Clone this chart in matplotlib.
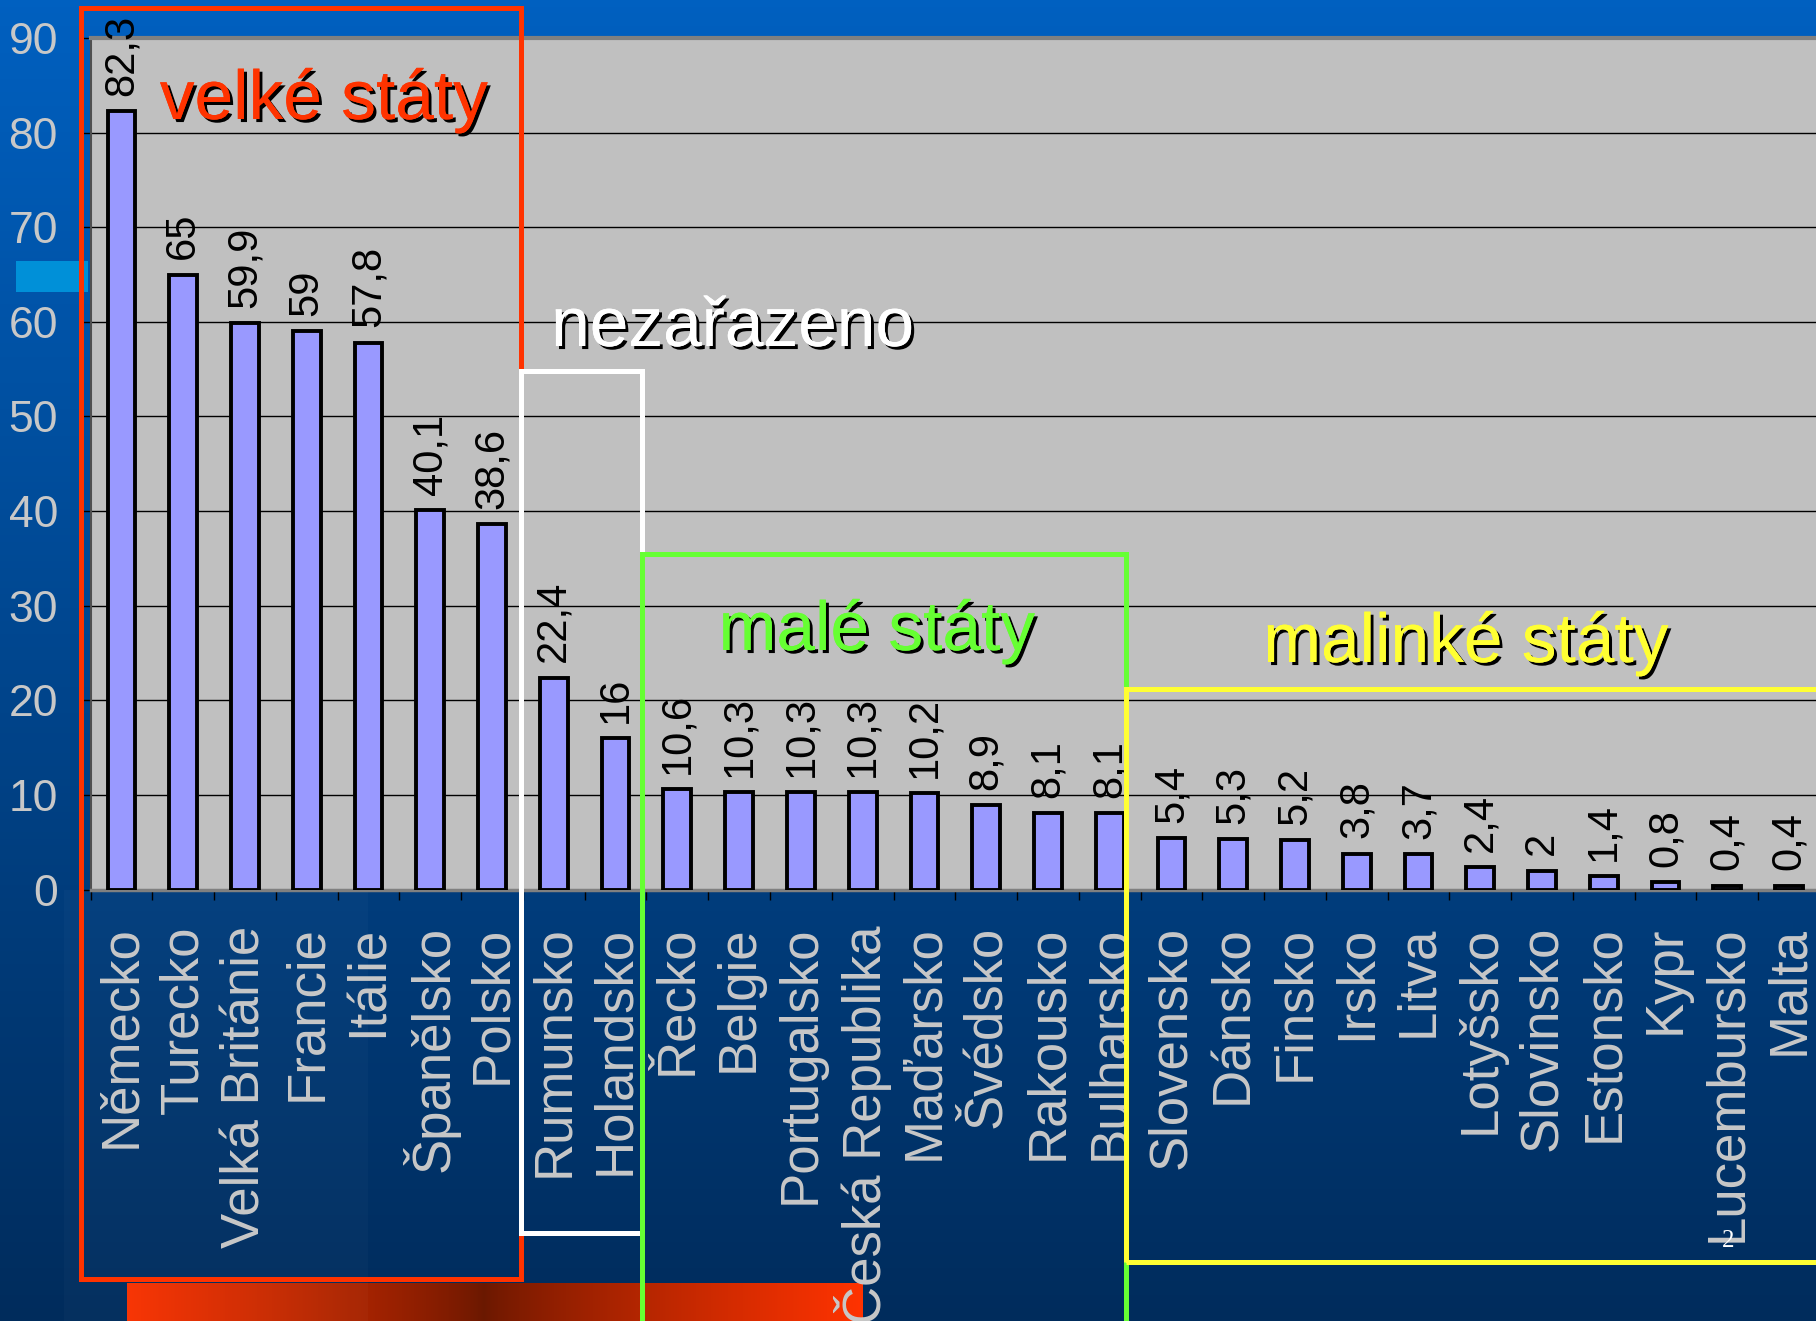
import numpy as np
import matplotlib.pyplot as plt
import matplotlib.patheffects as pe
from matplotlib.patches import Rectangle

# population in millions
countries = ["Německo", "Turecko", "Velká Británie", "Francie", "Itálie",
             "Španělsko", "Polsko", "Rumunsko", "Holandsko", "Řecko",
             "Belgie", "Portugalsko", "Česká Republika", "Maďarsko", "Švédsko",
             "Rakousko", "Bulharsko", "Slovensko", "Dánsko", "Finsko",
             "Irsko", "Litva", "Lotyšsko", "Slovinsko", "Estonsko",
             "Kypr", "Lucembursko", "Malta"]
values = [82.3, 65, 59.9, 59, 57.8, 40.1, 38.6, 22.4, 16, 10.6,
          10.3, 10.3, 10.3, 10.2, 8.9, 8.1, 8.1, 5.4, 5.3, 5.2,
          3.8, 3.7, 2.4, 2, 1.4, 0.8, 0.4, 0.4]
value_labels = [("%g" % v).replace(".", ",") for v in values]

group_names = ["velké státy", "nezařazeno", "malé státy", "malinké státy"]
group_colors = ["#ff3300", "white", "#66ff33", "#ffff33"]

plt.rcParams['font.family'] = ['Liberation Sans', 'DejaVu Sans']

W, H = 1816, 1321
fig = plt.figure(figsize=(W / 100, H / 100), dpi=100)


def fx(px):
    return px / W


def fy(py):
    return 1 - py / H


# slide background
bg = fig.add_axes([0, 0, 1, 1], zorder=-10)
bg.axis('off')
top_c = np.array([0x00, 0x60, 0xc0]) / 255
bot_c = np.array([0x00, 0x2c, 0x5c]) / 255
t = np.linspace(0, 1, 200)[:, None]
grad = top_c * (1 - t) + bot_c * t
bg.imshow(grad[:, None, :], extent=[0, W, H, 0], aspect='auto')
bg.add_patch(Rectangle((64, 890), 304, H - 890, color='white', alpha=0.025, lw=0))
bg.add_patch(Rectangle((16, 261), 72, 31, color='#0090d8', lw=0))
# orange bar at the bottom
s = np.abs(np.linspace(-1, 1, 300) + 0.03)
s = s / s.max()
c_mid = np.array([0x6a, 0x18, 0x00]) / 255
c_edge = np.array([0xff, 0x33, 0x00]) / 255
bar_grad = c_mid * (1 - s[:, None] ** 0.8) + c_edge * s[:, None] ** 0.8
bg.imshow(bar_grad[None, :, :], extent=[127, 863, H, 1283], aspect='auto')
bg.set_xlim(0, W)
bg.set_ylim(H, 0)

# chart
ax = fig.add_axes([fx(90.6), fy(889.5), (1820 - 90.6) / W, (889.5 - 38) / H])
ax.set_facecolor('#c0c0c0')
x = np.arange(len(countries))
ax.bar(x, values, width=0.45, color='#9999ff', edgecolor='black', linewidth=2.8, zorder=3)
ax.set_xlim(-0.5, len(countries) - 0.5)
ax.set_ylim(0, 90)
ax.set_yticks(range(0, 91, 10))
ax.yaxis.grid(True, color='black', linewidth=1.0)
ax.set_axisbelow(True)

ax.set_xticks(x)
ax.set_xticklabels(countries, rotation=90, fontsize=38, color='#c8c8c8')
ax.set_xticks(np.arange(-0.5, len(countries), 1), minor=True)
ax.tick_params(axis='x', which='major', length=0, pad=26)
ax.tick_params(axis='x', which='minor', length=7, width=1, color='black')
ax.tick_params(axis='y', length=5.8, width=1, pad=17.7, labelsize=32,
               labelcolor='#c8c8c8', color='black')

ax.spines['top'].set_color('#808080')
ax.spines['top'].set_linewidth(3)
ax.spines['left'].set_color('#505050')
ax.spines['left'].set_linewidth(1.5)
ax.spines['bottom'].set_color('#808080')
ax.spines['bottom'].set_linewidth(2.5)
ax.spines['right'].set_visible(False)

for xi, v, lab in zip(x, values, value_labels):
    ax.annotate(lab, (xi, v), xytext=(0, 11), textcoords='offset points',
                rotation=90, ha='center', va='bottom', fontsize=30,
                color='black', annotation_clip=False, zorder=4)

# group boxes (pixel corners of the slide)
boxes = [(81, 8, 521, 1279), (521, 371, 642, 1233),
         (642, 554, 1126, 1400), (1126, 689, 1900, 1262)]
for (x0, y0, x1, y1), col in zip(boxes, group_colors):
    fig.patches.append(Rectangle((fx(x0), fy(y1)), fx(x1 - x0), (y1 - y0) / H,
                                 transform=fig.transFigure, fill=False,
                                 edgecolor=col, linewidth=3.6, zorder=5))

shadow = [pe.withSimplePatchShadow(offset=(2.2, -2.2), shadow_rgbFace='black', alpha=1.0),
          pe.Normal()]
label_pos = [(324, 119), (733, 346), (877, 650), (1466, 662)]
for name, col, (cx, by) in zip(group_names, group_colors, label_pos):
    fig.text(fx(cx), fy(by), name, ha='center', va='baseline', fontsize=50,
             color=col, path_effects=shadow, zorder=6)

fig.text(fx(1728), fy(1241), "2", ha='center', va='center', fontsize=18,
         color='white', family='Liberation Serif', zorder=6)

fig.savefig("out.png", dpi=100)
